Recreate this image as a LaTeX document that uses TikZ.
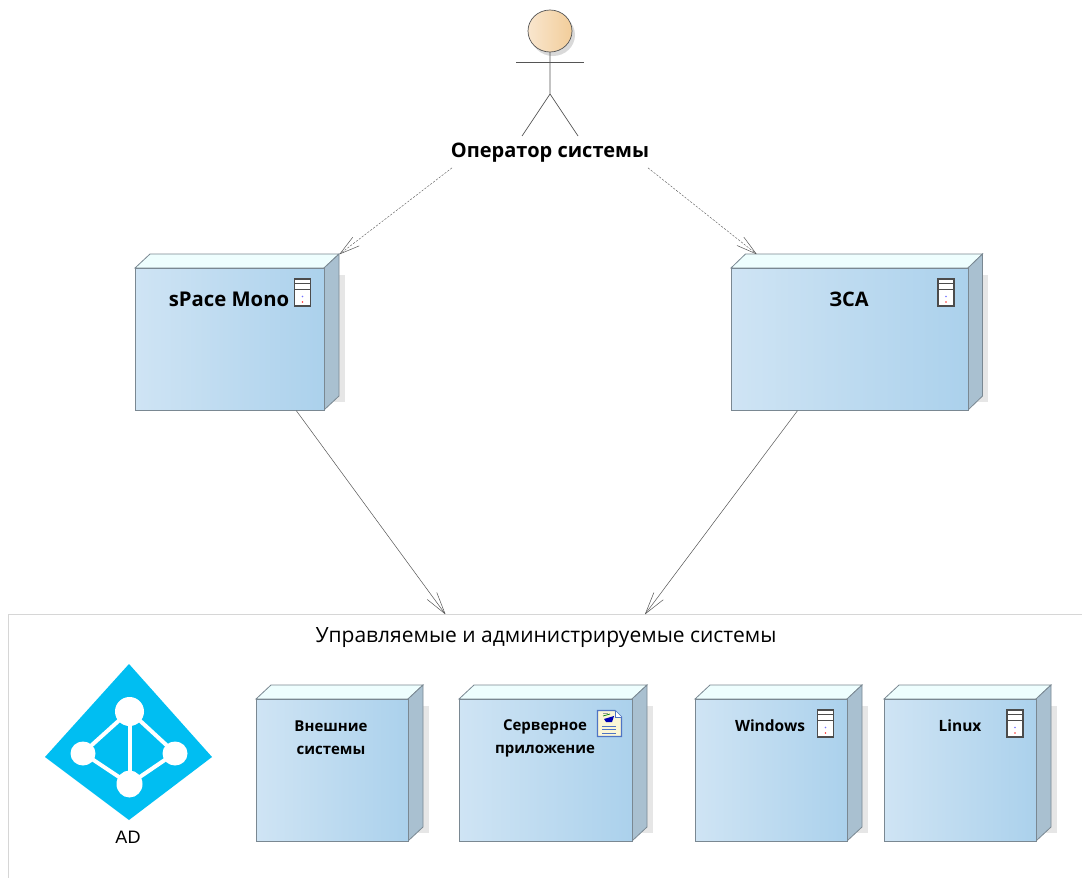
\documentclass[tikz,border=0pt]{standalone}
\usepackage{fontspec}
\setmainfont{Open Sans}
\newfontfamily\adfont{Liberation Sans}
\usetikzlibrary{arrows.meta,calc}
\definecolor{frontL}{HTML}{CFE4F4}
\definecolor{frontR}{HTML}{ABD1EC}
\definecolor{topface}{HTML}{EEFEFE}
\definecolor{sideface}{HTML}{A9C0D0}
\definecolor{edge}{HTML}{7A8892}
\definecolor{shadowc}{HTML}{E6E6E6}
\definecolor{adblue}{HTML}{00BEF2}
\definecolor{headL}{HTML}{F9E6CE}
\definecolor{headR}{HTML}{F2CD9A}
\definecolor{frame}{HTML}{D6D6D6}
\definecolor{linec}{HTML}{555555}
\definecolor{docblue}{HTML}{4F74C4}
\definecolor{doccream}{HTML}{FBF6D6}
\tikzset{
  x=1pt,y=-1pt,
  front/.style={draw=edge,line width=0.8pt,left color=frontL,right color=frontR,inner sep=0pt,anchor=north west},
  face/.style={draw=edge,line width=0.8pt},
  lab/.style={font=\bfseries\fontsize{#1}{#1}\selectfont,text=black,inner sep=0pt,align=center},
  stick/.style={draw=linec,line width=0.7pt},
  dep/.style={draw=linec,line width=0.4pt,dash pattern=on 2.2pt off 1.4pt,-{Straight Barb[length=20pt,width=22pt,line width=0.5pt,angle'=30,round]}},
  rel/.style={draw=linec,line width=0.5pt,-{Straight Barb[length=22pt,width=24pt,line width=0.5pt,angle'=30,round]}},
  hub/.style={fill=white,draw=none},
  spoke/.style={draw=white,line width=4pt}
}
% name, x1, y1, x2, y2, depth
\newcommand{\deploybox}[6]{%
  \fill[shadowc] (#4,#3+7) rectangle (#4+#6+5.5,#5-8);
  \draw[face,fill=topface] (#2,#3) -- (#2+#6,#3-14) -- (#4+#6,#3-14) -- (#4,#3) -- cycle;
  \draw[face,fill=sideface] (#4,#3) -- (#4+#6,#3-14) -- (#4+#6,#5-14) -- (#4,#5) -- cycle;
  \node[front,minimum width=#4-#2,minimum height=#5-#3] (#1) at (#2,#3) {};
}
\newcommand{\servericon}[2]{%
  \draw[draw=black!70,line width=1.2pt,fill=white] (#1,#2) rectangle (#1+16,#2+27);
  \draw[draw=black!70,line width=1pt] (#1,#2+4.5) -- (#1+16,#2+4.5) (#1,#2+10) -- (#1+16,#2+10);
  \fill[blue!55] (#1+8,#2+17.5) circle (0.8);
  \fill[red!80] (#1+8,#2+23) circle (0.9);
}
\begin{document}
\begin{tikzpicture}
\useasboundingbox (0,0) rectangle (1082,878);
\fill[white] (0,0) rectangle (1082,878);
% actor
\fill[black!15] (553,35) ellipse [x radius=22,y radius=21];
\shade[left color=headL,right color=headR] (550,31) ellipse [x radius=22,y radius=21];
\draw[stick] (550,31) ellipse [x radius=22,y radius=21];
\draw[stick] (516,62) -- (584,62);
\draw[stick] (550,52) -- (550,94) -- (522,136);
\draw[stick] (550,94) -- (578,136);
\node[lab=20] (oper) at (550,153) {Оператор системы};
% deployment boxes
\deploybox{mono}{135}{268}{324}{410}{15}
\deploybox{zsa}{731}{268}{968}{410}{14.5}
\deploybox{ext}{256}{699}{408}{841}{15}
\deploybox{app}{459}{699}{632}{841}{15}
\deploybox{win}{695}{699}{847}{841}{15}
\deploybox{lin}{884}{699}{1036}{841}{15}
\node[lab=20.3] (monoT) at (229,299.5) {sPace Mono};
\node[lab=20] (zsaT) at (849,299.5) {ЗСА};
\node[lab=15,text width=120pt] (extT) at (331,738) {Внешние\\[8pt]системы};
\node[lab=15,text width=120pt] (appT) at (545,738) {Серверное\\[8pt]приложение};
\node[lab=15.5] (winT) at (770,726) {Windows};
\node[lab=15.5] (linT) at (960,726) {Linux};
\servericon{294.5}{279}
\servericon{938}{279}
\servericon{817.5}{710}
\servericon{1007}{710}
% document icon
\draw[draw=docblue,line width=1.3pt,fill=doccream] (597.5,710.5) -- (615,710.5) -- (621.5,717) -- (621.5,736.5) -- (597.5,736.5) -- cycle;
\draw[draw=docblue,line width=0.7pt,fill=white] (615,710.5) -- (615,717) -- (621.5,717);
\fill[blue!70!black] (604,719) -- (614,716) -- (612,722) -- (606,722) -- cycle;
\draw[green!50!black,line width=0.7pt] (603,716) -- (610,714);
\draw[black!40,line width=0.7pt] (603,713.5) -- (608,713.5);
\draw[docblue,line width=1pt] (602,726) -- (616,726) (602,729.5) -- (616,729.5) (602,733) -- (616,733);
% managed systems frame
\node[inner sep=0pt,minimum width=1074pt,minimum height=264pt,anchor=north west] (sys) at (8,614) {};
\draw[frame,line width=0.8pt] (1082,614) -- (8,614) -- (8,878);
\node[font=\fontsize{21}{21}\selectfont,inner sep=0pt] (sysT) at (546,638) {Управляемые и администрируемые системы};
% AD
\fill[adblue] (129,664) -- (212,757) -- (129,820) -- (45,757) -- cycle;
\draw[spoke] (129.5,711) -- (83,753) -- (129.5,784) -- (175,753) -- cycle;
\draw[spoke] (129.5,711) -- (129.5,784);
\fill[hub] (129.5,711.5) ellipse [x radius=14.5,y radius=14.5];
\fill[hub] (83,753.5) ellipse [x radius=12.5,y radius=12];
\fill[hub] (175,753.5) ellipse [x radius=12.5,y radius=12];
\fill[hub] (129.5,784) ellipse [x radius=13,y radius=13.5];
\node[font=\adfont\fontsize{18}{18}\selectfont,inner sep=0pt] (adT) at (128,837) {AD};
% connectors
\draw[dep] ([xshift=-98pt,yshift=-5pt]oper.south) -- ([xshift=15pt,yshift=14pt]mono.north east);
\draw[dep] ([xshift=98pt,yshift=-5pt]oper.south) -- ([xshift=-93.5pt,yshift=14pt]zsa.north);
\draw[rel] ([xshift=66.5pt]mono.south) -- ([xshift=-100pt]sys.north);
\draw[rel] ([xshift=-52.5pt]zsa.south) -- ([xshift=100pt]sys.north);
\end{tikzpicture}
\end{document}
